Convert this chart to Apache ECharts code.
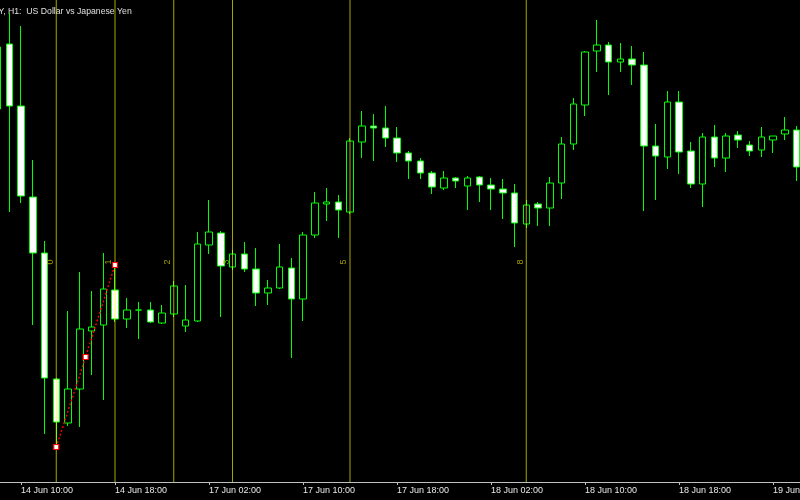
<!DOCTYPE html>
<html>
<head>
<meta charset="utf-8">
<script src="https://cdn.jsdelivr.net/npm/echarts@6/dist/echarts.min.js"></script>
<style>
html,body{margin:0;padding:0;background:#000;overflow:hidden;}
#chart{width:800px;height:500px;}
</style>
</head>
<body>
<div id="chart"></div>
<script>
// ---- data (USDJPY, H1) ----
const categories = [
 '14 Jun 08:00','14 Jun 09:00','14 Jun 10:00','14 Jun 11:00','14 Jun 12:00','14 Jun 13:00','14 Jun 14:00','14 Jun 15:00',
 '14 Jun 16:00','14 Jun 17:00','14 Jun 18:00','14 Jun 19:00','14 Jun 20:00','14 Jun 21:00','14 Jun 22:00','14 Jun 23:00',
 '17 Jun 00:00','17 Jun 01:00','17 Jun 02:00','17 Jun 03:00','17 Jun 04:00','17 Jun 05:00','17 Jun 06:00','17 Jun 07:00',
 '17 Jun 08:00','17 Jun 09:00','17 Jun 10:00','17 Jun 11:00','17 Jun 12:00','17 Jun 13:00','17 Jun 14:00','17 Jun 15:00',
 '17 Jun 16:00','17 Jun 17:00','17 Jun 18:00','17 Jun 19:00','17 Jun 20:00','17 Jun 21:00','17 Jun 22:00','17 Jun 23:00',
 '18 Jun 00:00','18 Jun 01:00','18 Jun 02:00','18 Jun 03:00','18 Jun 04:00','18 Jun 05:00','18 Jun 06:00','18 Jun 07:00',
 '18 Jun 08:00','18 Jun 09:00','18 Jun 10:00','18 Jun 11:00','18 Jun 12:00','18 Jun 13:00','18 Jun 14:00','18 Jun 15:00',
 '18 Jun 16:00','18 Jun 17:00','18 Jun 18:00','18 Jun 19:00','18 Jun 20:00','18 Jun 21:00','18 Jun 22:00','18 Jun 23:00',
 '19 Jun 00:00','19 Jun 01:00','19 Jun 02:00','19 Jun 03:00','19 Jun 04:00'
];
const openPrices = [
 95.955,96.28,95.97,95.515,95.235,94.605,94.385,94.555,94.845,94.875,
 95.05,94.905,94.95,94.95,94.885,94.93,94.87,94.895,95.275,95.335,
 95.165,95.23,95.155,95.035,95.06,95.16,95.005,95.325,95.48,95.49,
 95.44,95.79,95.87,95.86,95.81,95.735,95.695,95.635,95.56,95.61,
 95.57,95.615,95.575,95.555,95.535,95.38,95.48,95.46,95.585,95.78,
 95.975,96.245,96.275,96.19,96.205,96.175,95.77,95.715,95.99,95.745,
 95.58,95.815,95.71,95.825,95.775,95.75,95.80,95.83,95.85
];
const closePrices = [
 96.265,95.97,95.52,95.235,94.61,94.39,94.555,94.855,94.865,95.055,
 94.905,94.95,94.95,94.89,94.935,95.07,94.90,95.28,95.34,95.17,
 95.23,95.155,95.035,95.06,95.165,95.005,95.325,95.485,95.49,95.45,
 95.795,95.87,95.86,95.81,95.735,95.695,95.635,95.565,95.61,95.595,
 95.61,95.575,95.555,95.535,95.385,95.475,95.46,95.585,95.78,95.98,
 96.24,96.275,96.19,96.205,96.175,95.77,95.72,95.99,95.74,95.58,
 95.815,95.71,95.82,95.80,95.745,95.815,95.82,95.85,95.665
];
const lowPrices = [
 95.925,95.44,95.485,94.875,94.33,94.265,94.37,94.365,94.625,94.50,
 94.89,94.86,94.805,94.885,94.88,94.915,94.84,94.89,95.23,94.915,
 95.15,95.14,94.97,94.975,95.055,94.71,94.895,95.31,95.395,95.31,
 95.43,95.71,95.695,95.765,95.69,95.605,95.605,95.53,95.55,95.56,
 95.45,95.49,95.45,95.405,95.265,95.36,95.37,95.37,95.505,95.75,
 95.92,96.14,96.025,96.14,96.075,95.445,95.50,95.655,95.63,95.56,
 95.465,95.665,95.64,95.76,95.72,95.715,95.735,95.80,95.595
];
const highPrices = [
 96.30,96.435,96.37,95.70,95.295,94.61,94.945,95.14,95.045,95.235,
 95.175,95.01,94.99,94.99,94.975,95.095,95.075,95.34,95.50,95.345,
 95.25,95.29,95.26,95.10,95.28,95.21,95.34,95.54,95.56,95.525,
 95.81,95.945,95.93,95.97,95.865,95.745,95.71,95.645,95.645,95.615,
 95.62,95.62,95.61,95.605,95.58,95.50,95.49,95.615,95.815,96.01,
 96.245,96.40,96.29,96.285,96.27,96.24,95.88,96.045,96.045,95.79,
 95.835,95.875,95.835,95.845,95.795,95.865,95.82,95.915,95.87
];
// Fibonacci time zones (bar index) and their labels
const fibBars = [5, 10, 15, 20, 30, 45];
const fibLabels = ['0', '1', '2', '3', '5', '8'];
// dotted trend line points (bar index, price)
const trendBars = [5, 7.5, 10];
const trendPrices = [94.265, 94.715, 95.175];
// x axis tick labels shown every 8 bars starting at bar 2
const tickStart = 2, tickEvery = 8;

const Y_MIN = 94.09, Y_MAX = 96.5;
const candleData = categories.map((c, i) => [openPrices[i], closePrices[i], lowPrices[i], highPrices[i]]);
const trendData = trendBars.map((b, i) => [b, trendPrices[i]]);
const FIB_LABEL_PRICE = 95.19;

const FONT = '"Liberation Sans", Arial, sans-serif';
const fibSeries = fibBars.map((b, k) => ({
  type: 'line', xAxisIndex: 1, z: 3, silent: true, symbol: 'none',
  data: [[b, Y_MIN], [b, Y_MAX]],
  lineStyle: {color: 'rgba(255,255,0,0.65)', width: 1, type: 'solid'}
}));

const chart = echarts.init(document.getElementById('chart'), null, {renderer: 'canvas'});
chart.setOption({
  backgroundColor: '#000000',
  animation: false,
  graphic: [{
    type: 'text', x: -30, y: 12,
    style: {text: 'USDJPY, H1:  US Dollar vs Japanese Yen', fill: '#e0e0e0', font: '8.7px ' + FONT, textVerticalAlign: 'middle'}
  }],
  grid: {left: -8.375, right: -2.375, top: 0, bottom: 18, containLabel: false, outerBoundsMode: 'none'},
  xAxis: [{
    type: 'category', data: categories, boundaryGap: true,
    axisLine: {show: true, lineStyle: {color: '#c0c0c0', width: 1}},
    axisTick: {show: true, inside: false, length: 3, alignWithLabel: true,
      interval: (i) => (i - tickStart) % tickEvery === 0, lineStyle: {color: '#c0c0c0'}},
    axisLabel: {show: true, interval: (i) => (i - tickStart) % tickEvery === 0,
      align: 'left', margin: 4, color: '#e8e8e8', fontSize: 9, fontFamily: FONT, hideOverlap: false},
    splitLine: {show: false}
  }, {
    type: 'value', min: -0.5, max: 68.5, show: false
  }],
  yAxis: {type: 'value', min: Y_MIN, max: Y_MAX, show: false},
  series: [{
    type: 'candlestick', xAxisIndex: 0, data: candleData, barWidth: 7, z: 2,
    itemStyle: {color: '#000000', color0: '#ffffff', borderColor: '#00ff00', borderColor0: '#00ff00', borderWidth: 1}
  }].concat(fibSeries).concat([{
    type: 'scatter', xAxisIndex: 1, symbolSize: 0, z: 4, silent: true,
    data: fibBars.map((b, k) => ({value: [b, FIB_LABEL_PRICE], name: fibLabels[k]})),
    label: {show: true, position: 'inside', offset: [0, -6], rotate: 90, formatter: p => p.name,
      color: '#c8c000', fontSize: 9, fontFamily: FONT}
  }, {
    type: 'line', xAxisIndex: 1, data: trendData, z: 5, silent: true,
    lineStyle: {color: '#ff0000', width: 1.4, type: [2, 2]},
    symbol: 'rect', symbolSize: 5, showAllSymbol: true,
    itemStyle: {color: '#ffffff', borderColor: '#ff0000', borderWidth: 1.2}
  }])
});
</script>
</body>
</html>
